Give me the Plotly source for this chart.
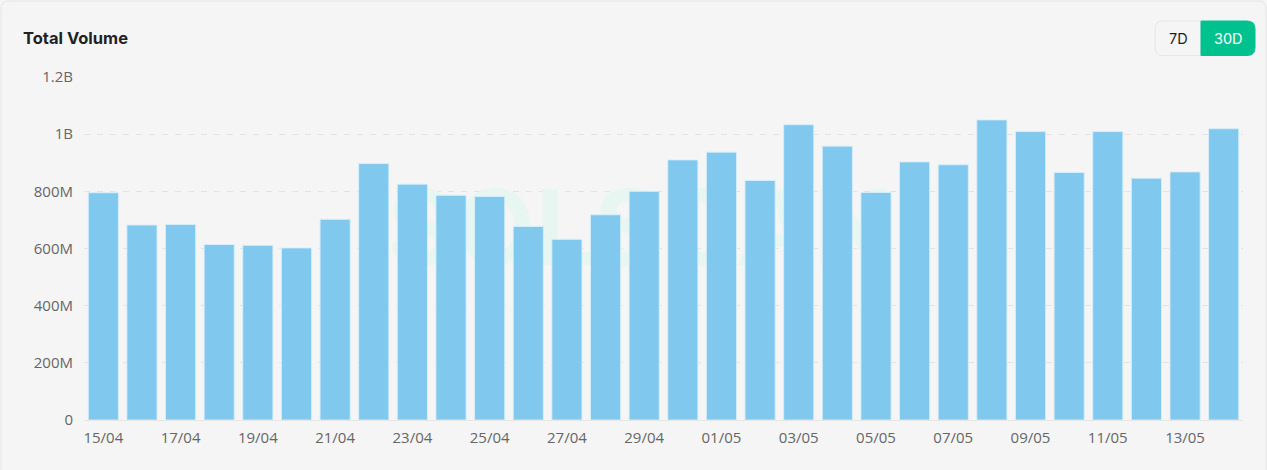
import plotly.graph_objects as go

# ---- data ----
dates = ["15/04", "16/04", "17/04", "18/04", "19/04", "20/04", "21/04", "22/04", "23/04", "24/04",
         "25/04", "26/04", "27/04", "28/04", "29/04", "30/04", "01/05", "02/05", "03/05", "04/05",
         "05/05", "06/05", "07/05", "08/05", "09/05", "10/05", "11/05", "12/05", "13/05", "14/05"]
volume = [795e6, 682e6, 684e6, 614e6, 611e6, 602e6, 702e6, 897e6, 825e6, 786e6,
          782e6, 677e6, 632e6, 718e6, 800e6, 910e6, 937e6, 838e6, 1033e6, 958e6,
          796e6, 903e6, 893e6, 1050e6, 1009e6, 866e6, 1009e6, 846e6, 868e6, 1019e6]
y_tickvals = [0, 200e6, 400e6, 600e6, 800e6, 1000e6, 1200e6]
y_ticktext = ["0", "200M", "400M", "600M", "800M", "1B", "1.2B"]
x_tickvals = dates[::2]

W, H = 1267, 470
L, R, T, B = 84, 24, 77, 50
PW, PH = W - L - R, H - T - B

def px(x):
    return (x - L) / PW

def py(y):
    return (H - B - y) / PH

def rrect(x0, y0, x1, y1, r, left=True, right=True):
    pts = []
    if left:
        pts.append(f"M {px(x0)},{py(y0 + r)}")
        pts.append(f"Q {px(x0)},{py(y0)} {px(x0 + r)},{py(y0)}")
    else:
        pts.append(f"M {px(x0)},{py(y0)}")
    if right:
        pts.append(f"L {px(x1 - r)},{py(y0)}")
        pts.append(f"Q {px(x1)},{py(y0)} {px(x1)},{py(y0 + r)}")
        pts.append(f"L {px(x1)},{py(y1 - r)}")
        pts.append(f"Q {px(x1)},{py(y1)} {px(x1 - r)},{py(y1)}")
    else:
        pts.append(f"L {px(x1)},{py(y0)}")
        pts.append(f"L {px(x1)},{py(y1)}")
    if left:
        pts.append(f"L {px(x0 + r)},{py(y1)}")
        pts.append(f"Q {px(x0)},{py(y1)} {px(x0)},{py(y1 - r)}")
    else:
        pts.append(f"L {px(x0)},{py(y1)}")
    pts.append("Z")
    return " ".join(pts)

fig = go.Figure()

# watermark (drawn on base axes, beneath the bars)
fig.add_trace(go.Scatter(
    x=[0.48], y=[0.632e9], mode="text", text=["<b>SOLSCAN</b>"],
    textfont=dict(family="Inter, Open Sans, sans-serif", size=104, color="#e7f6f0"),
    xaxis="x", yaxis="y", hoverinfo="skip", showlegend=False,
))

fig.add_trace(go.Bar(
    x=dates, y=volume, xaxis="x2", yaxis="y2",
    marker=dict(color="#80c8ee", line=dict(color="rgba(215,238,250,0.9)", width=1)),
    showlegend=False,
))

font_ticks = dict(family="Open Sans, sans-serif", size=15, color="#666666")

fig.update_layout(
    width=W, height=H,
    margin=dict(l=L, r=R, t=T, b=B),
    paper_bgcolor="#f5f5f5", plot_bgcolor="#f5f5f5",
    bargap=0.22,
    xaxis=dict(range=[0, 1], visible=False, fixedrange=True),
    yaxis=dict(range=[0, 1.2e9], tickvals=y_tickvals, ticktext=y_ticktext,
               showgrid=True, gridcolor="#e3e3e3", griddash="6px,7px", gridwidth=1,
               zeroline=False, showline=False, ticks="", ticklabelstandoff=10,
               tickfont=font_ticks),
    xaxis2=dict(overlaying="x", anchor="y", type="category", tickvals=x_tickvals,
                range=[-0.5, len(dates) - 0.5],
                showgrid=False, showline=True, linecolor="#e6e6e6", linewidth=1,
                ticks="", ticklabelstandoff=4, tickfont=font_ticks),
    yaxis2=dict(overlaying="y", range=[0, 1.2e9], visible=False, showgrid=False),
    shapes=[
        dict(type="path", xref="paper", yref="paper", layer="below",
             path=rrect(1, 1, 1266, 480, 8), line=dict(color="#e6e6e6", width=1),
             fillcolor="#f5f5f5"),
        dict(type="path", xref="paper", yref="paper",
             path=rrect(1155, 21, 1201, 55.5, 8, left=True, right=False),
             line=dict(color="#e6e6e6", width=1), fillcolor="#f5f5f5"),
        dict(type="path", xref="paper", yref="paper",
             path=rrect(1201, 21, 1255, 55.5, 8, left=False, right=True),
             line=dict(color="#00c28f", width=1), fillcolor="#00c28f"),
    ],
    annotations=[
        dict(text="<b>Total Volume</b>", xref="paper", yref="paper", x=px(21), y=py(38),
             xanchor="left", yanchor="middle", showarrow=False,
             font=dict(family="Inter, Open Sans, sans-serif", size=16.5, color="#222222")),
        dict(text="7D", xref="paper", yref="paper", x=px(1178), y=py(38.5),
             xanchor="center", yanchor="middle", showarrow=False,
             font=dict(family="Inter, Open Sans, sans-serif", size=14.5, color="#1f1f1f")),
        dict(text="30D", xref="paper", yref="paper", x=px(1228), y=py(38.5),
             xanchor="center", yanchor="middle", showarrow=False,
             font=dict(family="Inter, Open Sans, sans-serif", size=14.5, color="#ffffff")),
    ],
)

fig.write_html("out.html", config={"displayModeBar": False},
               post_script="document.body.style.margin='0';document.body.style.background='#ffffff';")
